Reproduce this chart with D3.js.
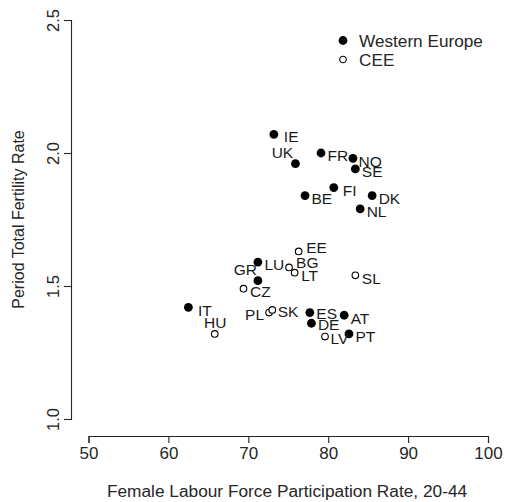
<!DOCTYPE html>
<html>
<head>
<meta charset="utf-8">
<script src="https://cdn.jsdelivr.net/npm/d3@7"></script>
<style>
  html, body { margin: 0; padding: 0; background: #fff; }
  svg { display: block; font-family: "Liberation Sans", Arial, sans-serif; }
</style>
</head>
<body>
<svg id="chart" width="508" height="502"></svg>
<script>
// Country codes, female labour force participation (20-44) and period TFR
const countries = ["IE","UK","FR","NO","SE","FI","BE","DK","NL","LU","GR","IT","ES","DE","AT","PT",
                   "EE","BG","LT","SL","CZ","PL","SK","HU","LV"];
const participation = [73.2, 75.9, 79.1, 83.1, 83.4, 80.7, 77.1, 85.5, 84.0, 71.2, 71.2, 62.5, 77.7, 77.9, 82.0, 82.6,
                       76.3, 75.1, 75.8, 83.4, 69.4, 72.6, 73.0, 65.8, 79.6];
const fertility = [2.07, 1.96, 2.00, 1.98, 1.94, 1.87, 1.84, 1.84, 1.79, 1.59, 1.52, 1.42, 1.40, 1.36, 1.39, 1.32,
                   1.63, 1.57, 1.55, 1.54, 1.49, 1.40, 1.41, 1.32, 1.31];
const region = ["Western Europe","Western Europe","Western Europe","Western Europe","Western Europe","Western Europe",
                "Western Europe","Western Europe","Western Europe","Western Europe","Western Europe","Western Europe",
                "Western Europe","Western Europe","Western Europe","Western Europe",
                "CEE","CEE","CEE","CEE","CEE","CEE","CEE","CEE","CEE"];
const groups = ["Western Europe", "CEE"];
const xTicks = [50, 60, 70, 80, 90, 100];
const yTicks = [1.0, 1.5, 2.0, 2.5];

// Label placement: [dx, dy, anchor] from the marker centre; default sits to the right
const labelPlacement = {
  IE: [10, 2, "start"], UK: [-13, -11, "middle"], FI: [9, 3, "start"], IT: [9.5, 3, "start"],
  GR: [-1, -11, "end"], PL: [-5, 1.5, "end"], HU: [0.5, -11, "middle"],
  EE: [7.5, -4, "start"], BG: [7, -5, "start"], NO: [5.5, 3, "start"], SK: [5.5, 2, "start"],
  LV: [5.5, 2.5, "start"], ES: [6.5, 1, "start"], DE: [6.5, 1, "start"]
};

const data = countries.map((c, i) => ({ code: c, x: participation[i], y: fertility[i], group: region[i] }));

const svg = d3.select("#chart");
const ink = "#262626";
const font = "Liberation Sans, Arial, sans-serif";

const x = d3.scaleLinear().domain([50, 100]).range([88.5, 488]);
const y = d3.scaleLinear().domain([1.0, 2.5]).range([419, 20]);

// x axis, detached below the plot region
const xAxis = svg.append("g")
  .attr("transform", "translate(0,436)")
  .call(d3.axisBottom(x).tickValues(xTicks).tickFormat(d3.format("d")).tickSizeOuter(0).tickSize(7).tickPadding(4));
xAxis.select(".domain").attr("stroke", ink).attr("stroke-width", 1.1);
xAxis.selectAll(".tick line").attr("stroke", ink).attr("stroke-width", 1.1);
xAxis.selectAll(".tick text").attr("fill", ink).style("font-size", "17px").style("font-family", font);

// y axis, with labels rotated parallel to the axis
const yAxis = svg.append("g")
  .attr("transform", "translate(71,0)")
  .call(d3.axisLeft(y).tickValues(yTicks).tickFormat(d3.format(".1f")).tickSizeOuter(0).tickSize(7));
yAxis.select(".domain").attr("stroke", ink).attr("stroke-width", 1.1);
yAxis.selectAll(".tick line").attr("stroke", ink).attr("stroke-width", 1.1);
yAxis.selectAll(".tick text")
  .attr("fill", ink)
  .attr("x", null)
  .attr("text-anchor", "middle")
  .attr("transform", "translate(-18,0) rotate(-90)")
  .attr("dy", "0.35em")
  .style("font-size", "16.5px").style("font-family", font);

// axis titles
svg.append("text")
  .attr("x", 287).attr("y", 497)
  .attr("text-anchor", "middle").attr("fill", ink)
  .style("font-size", "17.3px")
  .text("Female Labour Force Participation Rate, 20-44");
svg.append("text")
  .attr("transform", "translate(24,219.5) rotate(-90)")
  .attr("text-anchor", "middle").attr("fill", ink)
  .style("font-size", "16px")
  .text("Period Total Fertility Rate");

// markers: filled discs for Western Europe, open circles for CEE
const marker = (sel) => sel
  .attr("r", d => d.group === "CEE" ? 3.3 : 4.4)
  .attr("fill", d => d.group === "CEE" ? "#fff" : "#000")
  .attr("stroke", "#000")
  .attr("stroke-width", d => d.group === "CEE" ? 1.1 : 0);

svg.append("g").selectAll("circle")
  .data(data).join("circle")
  .attr("cx", d => x(d.x)).attr("cy", d => y(d.y))
  .call(marker);

// country labels
svg.append("g").selectAll("text")
  .data(data).join("text")
  .each(function(d) {
    const p = labelPlacement[d.code] || [6.5, 3, "start"];
    d3.select(this)
      .attr("x", x(d.x) + p[0])
      .attr("y", y(d.y) + p[1])
      .attr("dy", "0.35em")
      .attr("text-anchor", p[2]);
  })
  .attr("fill", "#1a1a1a")
  .style("font-size", "15.5px")
  .text(d => d.code);

// legend
const legend = svg.append("g").selectAll("g")
  .data(groups).join("g")
  .attr("transform", (d, i) => `translate(343,${40.5 + i * 19})`);
legend.append("circle")
  .datum(d => ({ group: d }))
  .call(marker);
legend.append("text")
  .attr("x", 16).attr("dy", "0.35em")
  .attr("fill", ink)
  .style("font-size", "17.2px")
  .text(d => d);
</script>
</body>
</html>
